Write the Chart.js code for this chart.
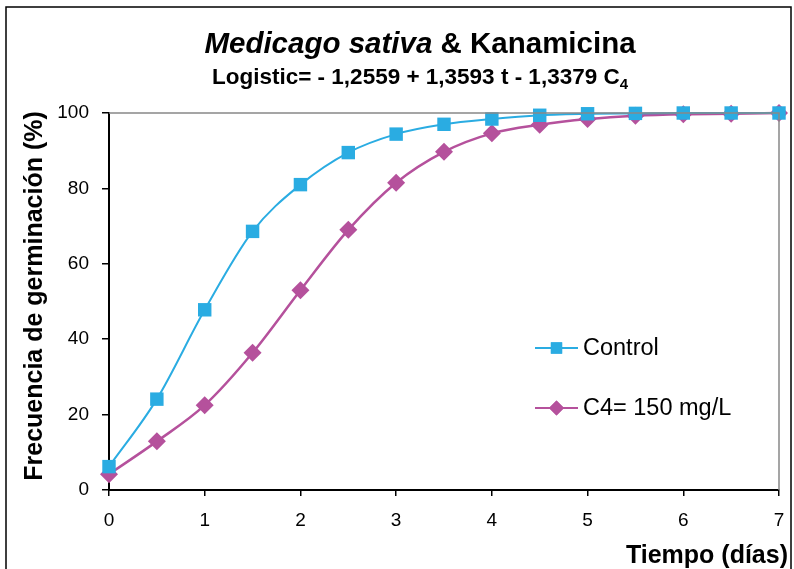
<!DOCTYPE html>
<html>
<head>
<meta charset="utf-8">
<script src="https://cdn.jsdelivr.net/npm/chart.js@4.4.0/dist/chart.umd.min.js"></script>
<style>
  html, body { margin: 0; padding: 0; background: #fff; }
  #wrap { width: 794px; height: 569px; }
</style>
</head>
<body>
<div id="wrap"><canvas id="chart" width="794" height="569"></canvas></div>
<script>
// values
const days = [0, 0.5, 1, 1.5, 2, 2.5, 3, 3.5, 4, 4.5, 5, 5.5, 6, 6.5, 7];
const control = [6.2, 24.1, 47.8, 68.6, 81.0, 89.5, 94.4, 97.0, 98.4, 99.4, 99.8, 99.9, 100, 100, 100];
const c4 = [4.2, 12.9, 22.5, 36.4, 53.0, 69.0, 81.5, 89.7, 94.6, 96.9, 98.4, 99.3, 99.7, 99.8, 100];
const yTicks = [0, 20, 40, 60, 80, 100];
const xTicks = [0, 1, 2, 3, 4, 5, 6, 7];
const seriesNames = ["Control", "C4= 150 mg/L"];

const blue = "#2AACE2";
const purple = "#B5519C";
const FONT = "'Liberation Sans', Arial, sans-serif";

function toPoints(ys) {
    return days.map((d, i) => ({ x: d, y: ys[i] }));
}

// titles, frame, legend and axis titles
const decorations = {
    id: "decorations",
    afterDraw(chart) {
        const ctx = chart.ctx;
        const area = chart.chartArea;
        ctx.save();

        // outer frame
        ctx.strokeStyle = "#000";
        ctx.lineWidth = 1.5;
        ctx.strokeRect(6, 7, 785, 600);

        // top and right borders of the plot
        ctx.strokeStyle = "#888";
        ctx.lineWidth = 1.5;
        ctx.beginPath();
        ctx.moveTo(area.left, area.top);
        ctx.lineTo(area.right, area.top);
        ctx.lineTo(area.right, area.bottom);
        ctx.stroke();

        ctx.fillStyle = "#000";
        ctx.textBaseline = "alphabetic";

        // title with italic species name
        const part1 = "Medicago sativa";
        const part2 = " & Kanamicina";
        ctx.font = "italic bold 29.5px " + FONT;
        const w1 = ctx.measureText(part1).width;
        ctx.font = "bold 29.5px " + FONT;
        const w2 = ctx.measureText(part2).width;
        let x = 420 - (w1 + w2) / 2;
        ctx.textAlign = "left";
        ctx.font = "italic bold 29.5px " + FONT;
        ctx.fillText(part1, x, 53);
        ctx.font = "bold 29.5px " + FONT;
        ctx.fillText(part2, x + w1, 53);

        // subtitle with subscript
        const sub = "Logistic= - 1,2559 + 1,3593 t - 1,3379 C";
        ctx.font = "bold 22.5px " + FONT;
        const ws = ctx.measureText(sub).width;
        ctx.font = "bold 15px " + FONT;
        const w4 = ctx.measureText("4").width;
        x = 420 - (ws + w4) / 2;
        ctx.font = "bold 22.5px " + FONT;
        ctx.fillText(sub, x, 84);
        ctx.font = "bold 15px " + FONT;
        ctx.fillText("4", x + ws, 89);

        // axis titles
        ctx.font = "bold 25px " + FONT;
        ctx.textAlign = "right";
        ctx.fillText("Tiempo (días)", 788, 563);

        ctx.save();
        ctx.translate(42, 296);
        ctx.rotate(-Math.PI / 2);
        ctx.textAlign = "center";
        ctx.fillText("Frecuencia de germinación (%)", 0, 0);
        ctx.restore();

        // legend
        const items = [
            { name: seriesNames[0], color: blue, style: "rect", r: 8, y: 348 },
            { name: seriesNames[1], color: purple, style: "rectRot", r: 7.5, y: 408 }
        ];
        ctx.font = "23.5px " + FONT;
        ctx.textAlign = "left";
        ctx.textBaseline = "middle";
        items.forEach(it => {
            ctx.strokeStyle = it.color;
            ctx.lineWidth = 2;
            ctx.beginPath();
            ctx.moveTo(535, it.y);
            ctx.lineTo(578, it.y);
            ctx.stroke();
            ctx.fillStyle = it.color;
            Chart.helpers.drawPoint(ctx, { pointStyle: it.style, radius: it.r, borderWidth: 0 }, 556.5, it.y);
            ctx.fill();
            ctx.fillStyle = "#000";
            ctx.fillText(it.name, 583, it.y + 1);
        });

        ctx.restore();
    }
};

const ctx = document.getElementById("chart").getContext("2d");
const chart = new Chart(ctx, {
    type: "scatter",
    data: {
        datasets: [{
            label: seriesNames[0],
            data: toPoints(control),
            showLine: true,
            borderColor: blue,
            backgroundColor: blue,
            borderWidth: 2,
            pointStyle: "rect",
            pointRadius: 9.5,
            pointHoverRadius: 9.5,
            pointBorderWidth: 0,
            tension: 0.4,
            cubicInterpolationMode: "monotone",
            clip: false
        }, {
            label: seriesNames[1],
            data: toPoints(c4),
            showLine: true,
            borderColor: purple,
            backgroundColor: purple,
            borderWidth: 2.5,
            pointStyle: "rectRot",
            pointRadius: 9,
            pointHoverRadius: 9,
            pointBorderWidth: 0,
            tension: 0.4,
            cubicInterpolationMode: "monotone",
            clip: false
        }]
    },
    options: {
        responsive: false,
        animation: false,
        layout: { padding: { top: 113, right: 15, left: 0, bottom: 0 } },
        plugins: {
            legend: { display: false },
            tooltip: { enabled: false }
        },
        scales: {
            x: {
                type: "linear",
                min: 0,
                max: 7,
                afterBuildTicks: s => { s.ticks = xTicks.map(v => ({ value: v })); },
                afterFit: s => { s.height = 79; s.paddingLeft = 0; s.paddingRight = 0; },
                grid: { drawOnChartArea: false, tickLength: 6, color: "#000", lineWidth: 1.5 },
                border: { color: "#000", width: 2 },
                ticks: { color: "#000", font: { family: FONT, size: 19 }, padding: 13 }
            },
            y: {
                min: 0,
                max: 100,
                afterBuildTicks: s => { s.ticks = yTicks.map(v => ({ value: v })); },
                afterFit: s => { s.width = 109; s.paddingTop = 0; s.paddingBottom = 0; },
                grid: { drawOnChartArea: false, tickLength: 7, color: "#000", lineWidth: 1.5 },
                border: { color: "#000", width: 2 },
                ticks: { color: "#000", font: { family: FONT, size: 19 }, padding: 13 }
            }
        }
    },
    plugins: [decorations]
});
</script>
</body>
</html>
